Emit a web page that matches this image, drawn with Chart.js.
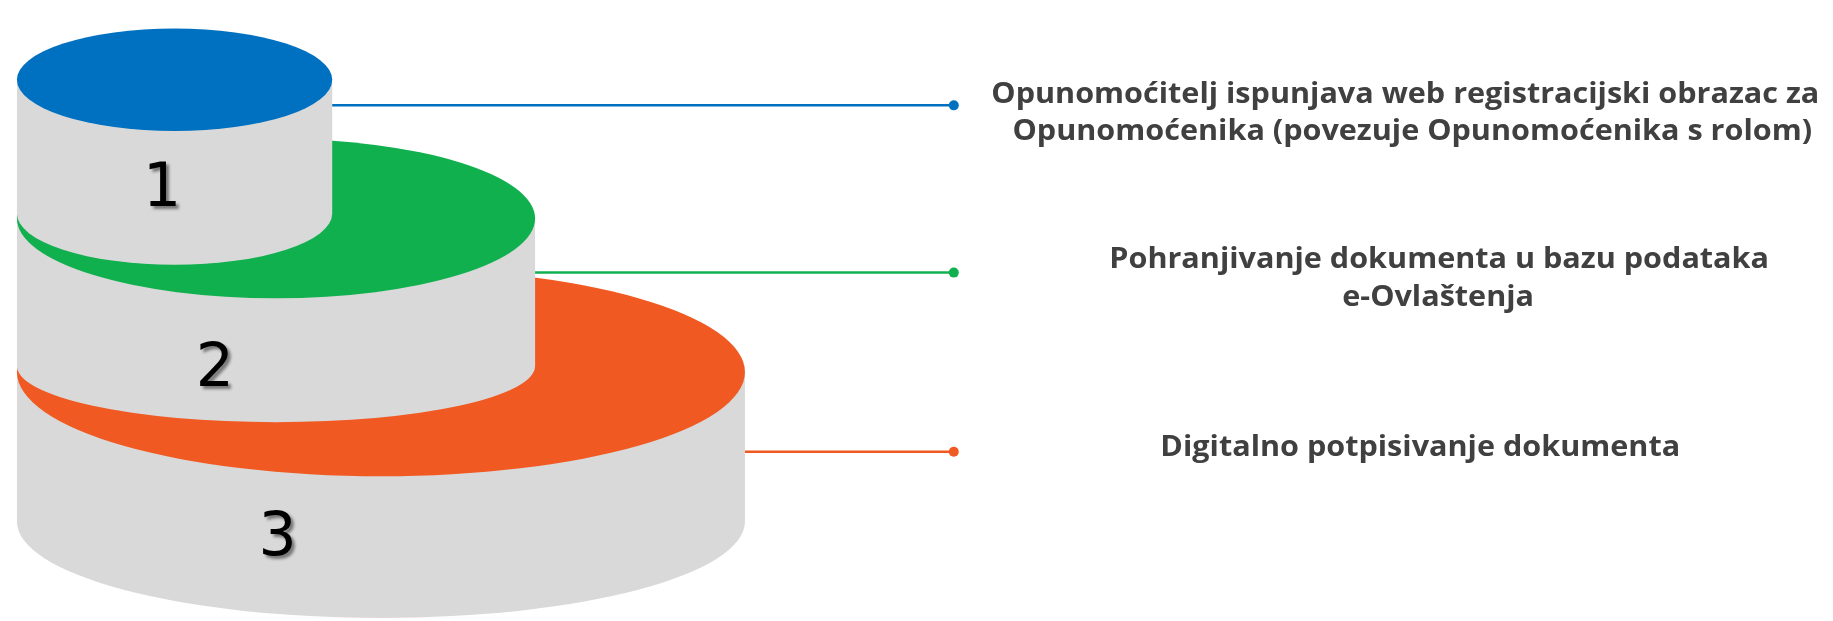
<!DOCTYPE html>
<html>
<head>
<meta charset="utf-8">
<script src="https://cdn.jsdelivr.net/npm/chart.js@4.4.1/dist/chart.umd.min.js"></script>
<style>
html,body{margin:0;padding:0;background:#ffffff;overflow:hidden}
#wrap{width:1833px;height:621px;position:relative}
</style>
</head>
<body>
<div id="wrap"><canvas id="c" width="1833" height="621"></canvas></div>
<script>
// ---- content ----
const stepNumbers = ['1', '2', '3'];
const stepTexts = [
  ['Opunomoćitelj ispunjava web registracijski obrazac za', 'Opunomoćenika (povezuje Opunomoćenika s rolom)'],
  ['Pohranjivanje dokumenta u bazu podataka', 'e-Ovlaštenja'],
  ['Digitalno potpisivanje dokumenta']
];
const stepColors = ['#0070C0', '#11B04F', '#F05A22'];

// ---- layout (chart units = pixels of the 1833x621 picture) ----
const cylLeft = 12;
const cylRight = [329, 533, 744];
const cylTopY = [76, 217, 373];
const cylTopRy = [52, 81, 106];
const cylBottomY = [212, 367, 525];
const cylBottomRy = [52, 57, 98];
const connectorY = [102, 272, 454];
const connectorEndX = 954;
const numberX = [158, 211, 274];
const numberY = [188, 371, 543];
const textCenterX = [[1408, 1415], [1442, 1441], [1423]];
const textBaseY = [[100, 137.5], [267, 306], [458]];

const GRAY = '#D9D9D9';
const TEXT = '#404040';

const cylinderPlugin = {
  id: 'cylinders',
  beforeDatasetsDraw(chart) {
    const ctx = chart.ctx;
    const xs = chart.scales.x, ys = chart.scales.y;
    const px = v => xs.getPixelForValue(v);
    const py = v => ys.getPixelForValue(v);
    for (let i = stepNumbers.length - 1; i >= 0; i--) {
      const cx = (cylLeft + cylRight[i]) / 2;
      const rx = (cylRight[i] - cylLeft) / 2;
      const pcx = px(cx), prx = px(cx + rx) - px(cx);
      const ptY = py(cylTopY[i]), pbY = py(cylBottomY[i]);
      const ptRy = Math.abs(py(cylTopY[i] + cylTopRy[i]) - ptY);
      const pbRy = Math.abs(py(cylBottomY[i] + cylBottomRy[i]) - pbY);
      ctx.save();
      ctx.fillStyle = GRAY;
      ctx.beginPath();
      ctx.ellipse(pcx, pbY, prx, pbRy, 0, 0, Math.PI);
      ctx.lineTo(pcx - prx, ptY);
      ctx.lineTo(pcx + prx, ptY);
      ctx.closePath();
      ctx.fill();
      ctx.fillStyle = stepColors[i];
      ctx.beginPath();
      ctx.ellipse(pcx, ptY, prx, ptRy, 0, 0, Math.PI * 2);
      ctx.fill();
      // step number
      ctx.font = '60px "DejaVu Sans"';
      ctx.textAlign = 'center';
      ctx.textBaseline = 'middle';
      ctx.shadowColor = 'rgba(0,0,0,0.45)';
      ctx.shadowOffsetX = 3;
      ctx.shadowOffsetY = 3;
      ctx.shadowBlur = 3;
      ctx.fillStyle = '#000000';
      ctx.fillText(stepNumbers[i], px(numberX[i]), py(numberY[i]));
      ctx.restore();
    }
  },
  afterDatasetsDraw(chart) {
    const ctx = chart.ctx;
    const xs = chart.scales.x, ys = chart.scales.y;
    ctx.save();
    ctx.font = 'bold 28px "Open Sans"';
    ctx.fillStyle = TEXT;
    ctx.textAlign = 'center';
    ctx.textBaseline = 'alphabetic';
    const sx = 828 / ctx.measureText(stepTexts[0][0]).width;
    stepTexts.forEach((lines, i) => {
      lines.forEach((line, j) => {
        ctx.save();
        ctx.translate(xs.getPixelForValue(textCenterX[i][j]), ys.getPixelForValue(textBaseY[i][j]));
        ctx.scale(sx, 1);
        ctx.fillText(line, 0, 0);
        ctx.restore();
      });
    });
    ctx.restore();
  }
};

const datasets = stepNumbers.map((n, i) => ({
  label: 'Korak ' + n,
  data: [{x: cylRight[i], y: connectorY[i]}, {x: connectorEndX, y: connectorY[i]}],
  showLine: true,
  borderColor: stepColors[i],
  borderWidth: 2.5,
  pointRadius: [0, 5],
  pointBackgroundColor: stepColors[i],
  pointBorderWidth: 0,
  pointHoverRadius: 0,
  clip: false
}));

new Chart(document.getElementById('c'), {
  type: 'scatter',
  data: { datasets },
  options: {
    responsive: false,
    animation: false,
    devicePixelRatio: 1,
    layout: { padding: 0 },
    events: [],
    plugins: { legend: { display: false }, tooltip: { enabled: false } },
    scales: {
      x: { type: 'linear', min: 0, max: 1833, display: false },
      y: { type: 'linear', min: 0, max: 621, reverse: true, display: false }
    }
  },
  plugins: [cylinderPlugin]
});
</script>
</body>
</html>
